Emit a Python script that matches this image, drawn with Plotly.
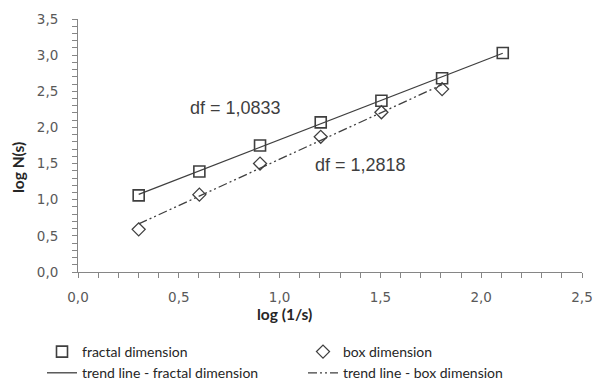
import numpy as np
import plotly.graph_objects as go

# data
log_inv_s = [0.301, 0.602, 0.903, 1.204, 1.505, 1.806, 2.107]
fractal_logN = [1.06, 1.39, 1.75, 2.07, 2.37, 2.68, 3.03]
box_x = [0.301, 0.602, 0.903, 1.204, 1.505, 1.806]
box_logN = [0.59, 1.07, 1.50, 1.87, 2.21, 2.53]
df_fractal_label = "df = 1,0833"
df_box_label = "df = 1,2818"

# trend lines (least squares)
pf = np.polyfit(log_inv_s, fractal_logN, 1)
pb = np.polyfit(box_x, box_logN, 1)
tf_x = [min(log_inv_s), max(log_inv_s)]
tb_x = [min(box_x), max(box_x)]

dark = "#3f3f3f"
grey = "#595959"
W, H = 595, 378
L, R, T, B = 78, 13, 19, 106
pw, ph = W - L - R, H - T - B

def px_x(p):
    return (p - L) / pw

def px_y(p):
    return (H - B - p) / ph

fig = go.Figure()
fig.add_trace(go.Scatter(x=log_inv_s, y=fractal_logN, mode="markers", name="fractal dimension",
                         legend="legend",
                         marker=dict(symbol="square-open", size=11, color=dark, line=dict(width=1.6, color=dark))))
fig.add_trace(go.Scatter(x=tf_x, y=list(np.polyval(pf, tf_x)), mode="lines", legend="legend",
                         name="trend line - fractal dimension", line=dict(color=dark, width=1.3)))
fig.add_trace(go.Scatter(x=box_x, y=box_logN, mode="markers", name="box dimension", legend="legend2",
                         marker=dict(symbol="diamond-open", size=10, color=dark, line=dict(width=1.3, color=dark))))
fig.add_trace(go.Scatter(x=tb_x, y=list(np.polyval(pb, tb_x)), mode="lines", legend="legend2",
                         name="trend line - box dimension",
                         line=dict(color=dark, width=1.3, dash="9px,3px,2px,3px,2px,3px")))

fig.add_annotation(x=0.78, y=2.27, text=df_fractal_label, showarrow=False,
                   font=dict(family="Liberation Sans", size=18, color=dark))
fig.add_annotation(x=1.40, y=1.48, text=df_box_label, showarrow=False,
                   font=dict(family="Liberation Sans", size=18, color=dark))
fig.add_annotation(x=px_x(284), xref="paper", y=px_y(314), yref="paper", text="<b>log (1/s)</b>",
                   xanchor="center", yanchor="middle",
                   showarrow=False, font=dict(family="Lato", size=15.5, color="#262626"))
fig.add_annotation(x=px_x(18), xref="paper", y=px_y(168), yref="paper", text="<b>log N(s)</b>",
                   xanchor="center", yanchor="middle",
                   textangle=-90, showarrow=False, font=dict(family="Lato", size=15.5, color="#262626"))

axis_common = dict(showgrid=False, zeroline=False, showline=True, linecolor="#868686", linewidth=1,
                   ticks="outside", ticklen=5, tickcolor="#868686",
                   tickfont=dict(family="DejaVu Sans", size=13.5, color=grey),
                   minor=dict(ticks="outside", ticklen=5, tickcolor="#868686", dtick=0.1))

legend_common = dict(orientation="v", xanchor="left", yanchor="top", tracegroupgap=0, itemwidth=30,
                     bgcolor="rgba(0,0,0,0)", font=dict(family="Lato", size=14, color="#262626"))

fig.update_layout(
    width=W, height=H,
    margin=dict(l=L, r=R, t=T, b=B, autoexpand=False),
    paper_bgcolor="white", plot_bgcolor="white",
    separators=", ",
    showlegend=True,
    legend=dict(x=px_x(42), y=px_y(336), **legend_common),
    legend2=dict(x=px_x(303), y=px_y(336), **legend_common),
    xaxis=dict(range=[0, 2.5], dtick=0.5, tickformat=".1f", ticklabelstandoff=8, **axis_common),
    yaxis=dict(range=[0, 3.5], dtick=0.5, tickformat=".1f", ticklabelstandoff=11, **axis_common),
)
fig.write_html("out.html", config={"displayModeBar": False},
               post_script="document.body.style.margin='0';document.body.style.overflow='hidden';")
